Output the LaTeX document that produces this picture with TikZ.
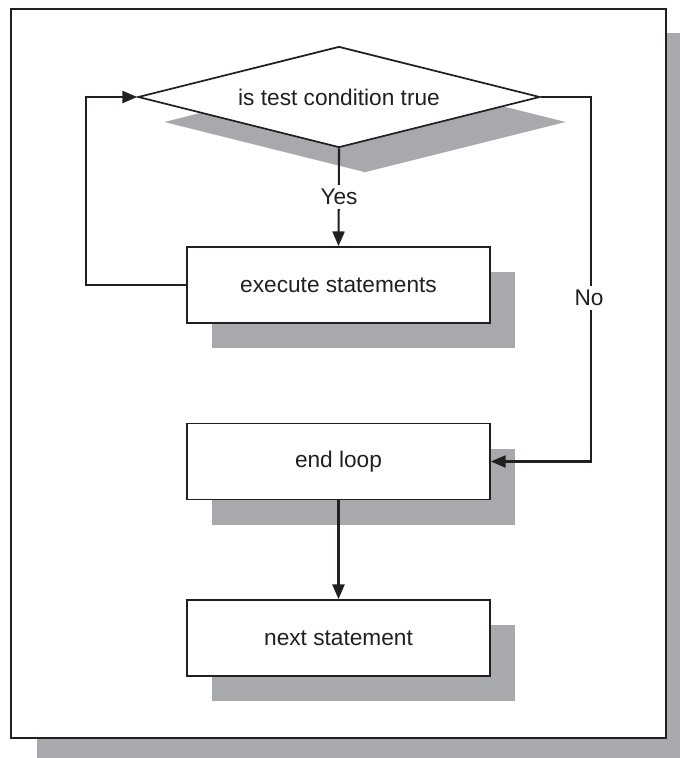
\documentclass[tikz,border=0pt]{standalone}
\usepackage{fontspec}
\setmainfont{Liberation Sans}
\usetikzlibrary{shapes.geometric,shadows,arrows.meta}
\definecolor{shadowgray}{RGB}{167,169,172}
\definecolor{inkgray}{RGB}{35,31,32}

\begin{document}
\begin{tikzpicture}[x=0.75pt,y=0.75pt,yscale=-1,xscale=1,
  every node/.style={font=\fontsize{17}{20}\selectfont, text=inkgray},
  stmtbox/.style={draw=inkgray, line width=1.3pt, fill=white, inner sep=0pt,
    minimum width=227.25pt, minimum height=57pt,
    general shadow={fill=shadowgray, shadow xshift=18.75pt, shadow yshift=-18.75pt}},
  testbox/.style={diamond, aspect=4, draw=inkgray, line width=1.3pt, fill=white, inner sep=0pt,
    minimum width=301.5pt, minimum height=75.75pt,
    general shadow={fill=shadowgray, shadow xshift=19.5pt, shadow yshift=-18.75pt}},
  flow/.style={draw=inkgray, line width=1.6pt, -{Triangle[length=11pt,width=9pt]}},
  gaplabel/.style={fill=white, inner sep=3pt}]

            \useasboundingbox (0,0) rectangle (680,758);

            % Frame
            \fill[shadowgray] (37,33) rectangle (680,758);
            \draw[draw=inkgray, line width=1.6pt, fill=white] (11,9) rectangle (666,738);

            % Steps
            \node [testbox] (test) at (339,97) {is test condition true};
            \node [stmtbox] (exec) at (338.5,285) {execute statements};
            \node [stmtbox] (endloop) at (338.5,461.5) {end loop};
            \node [stmtbox] (next) at (338.5,638) {next statement};

            % Flow lines
            \draw [flow] (test.south) -- (exec.north);
            \draw [flow] (exec.west) -- ++(-100,0) |- (test.west);
            \draw [flow] (test.east) -- ++(50,0) |- (endloop.east);
            \draw [flow] (endloop.south) -- (next.north);

            % Labels
            \node [gaplabel] (yes) at (339,197) {Yes};
            \node [gaplabel] (no) at (589,298) {No};

\end{tikzpicture}
\end{document}
